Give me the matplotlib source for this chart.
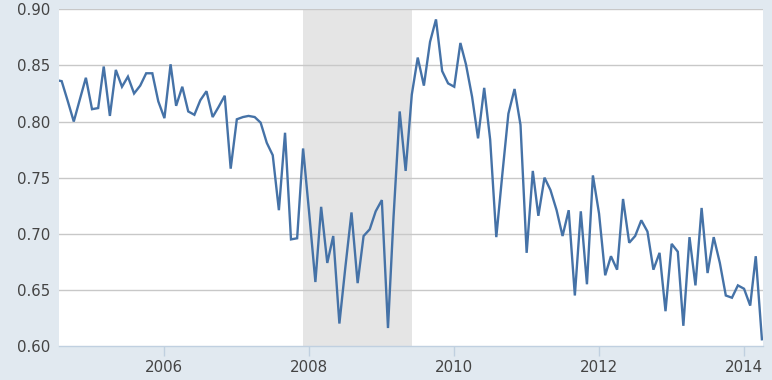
import matplotlib
matplotlib.use("Agg")
import matplotlib.pyplot as plt
import matplotlib.dates as mdates
import pandas as pd
import numpy as np

start_month = "2004-07-01"
values = [
    # 2004 Jul-Dec
    0.837, 0.836, 0.818, 0.800, 0.820, 0.839,
    # 2005
    0.811, 0.812, 0.849, 0.805, 0.846, 0.831, 0.840, 0.825, 0.832, 0.843, 0.843, 0.818,
    # 2006
    0.803, 0.851, 0.814, 0.831, 0.809, 0.806, 0.819, 0.827, 0.804, 0.813, 0.823, 0.758,
    # 2007
    0.802, 0.804, 0.805, 0.804, 0.799, 0.781, 0.770, 0.721, 0.790, 0.695, 0.696, 0.776,
    # 2008
    0.718, 0.657, 0.724, 0.674, 0.698, 0.620, 0.670, 0.719, 0.656, 0.698, 0.704, 0.720,
    # 2009
    0.730, 0.616, 0.715, 0.809, 0.756, 0.824, 0.857, 0.832, 0.871, 0.891, 0.845, 0.834,
    # 2010
    0.831, 0.870, 0.851, 0.822, 0.785, 0.830, 0.784, 0.697, 0.754, 0.807, 0.829, 0.797,
    # 2011
    0.683, 0.756, 0.716, 0.750, 0.739, 0.721, 0.698, 0.721, 0.645, 0.720, 0.655, 0.752,
    # 2012
    0.718, 0.663, 0.680, 0.668, 0.731, 0.692, 0.698, 0.712, 0.702, 0.668, 0.683, 0.631,
    # 2013
    0.691, 0.684, 0.618, 0.697, 0.654, 0.723, 0.665, 0.697, 0.674, 0.645, 0.643, 0.654,
    # 2014 Jan-Apr
    0.651, 0.636, 0.680, 0.606,
]
dates = pd.date_range(start_month, periods=len(values), freq="MS")

recession_start = "2007-12-01"
recession_end = "2009-06-01"
x_ticks_years = [2006, 2008, 2010, 2012, 2014]
y_ticks = [0.60, 0.65, 0.70, 0.75, 0.80, 0.85, 0.90]

bg = "#E1E9F0"
line_color = "#4572A7"
label_color = "#444444"

fig = plt.figure(figsize=(7.72, 3.80), dpi=100, facecolor=bg)
ax = fig.add_axes([58.7 / 772, 34 / 380, 704 / 772, (346 - 9.3) / 380])
ax.set_facecolor("white")

ax.axvspan(pd.Timestamp(recession_start), pd.Timestamp(recession_end),
           color="#E5E5E5", lw=0, zorder=0)

for yv in y_ticks[1:]:
    ax.axhline(yv, color="#C8C8C8", lw=1.0, zorder=1)

ax.plot(dates, values, color=line_color, lw=1.7, zorder=3,
        solid_joinstyle="miter")

ax.set_xlim(pd.Timestamp("2004-07-17"), pd.Timestamp("2014-04-05"))
ax.set_ylim(0.60, 0.90)

ax.set_yticks(y_ticks)
ax.set_yticklabels([f"{v:.2f}" for v in y_ticks])
ax.set_xticks([pd.Timestamp(f"{y}-01-01") for y in x_ticks_years])
ax.set_xticklabels([str(y) for y in x_ticks_years])

for s in ["left", "right", "top"]:
    ax.spines[s].set_visible(False)
ax.spines["bottom"].set_color("#C0D0E0")
ax.spines["bottom"].set_linewidth(1.0)

ax.tick_params(axis="y", length=0, pad=6, labelsize=10.8, labelcolor=label_color)
ax.tick_params(axis="x", length=7, width=1, color="#C0D0E0", pad=3,
               labelsize=10.8, labelcolor=label_color)
for lab in ax.get_yticklabels() + ax.get_xticklabels():
    lab.set_family("DejaVu Sans")

fig.savefig("out.png", dpi=100, facecolor=bg)
